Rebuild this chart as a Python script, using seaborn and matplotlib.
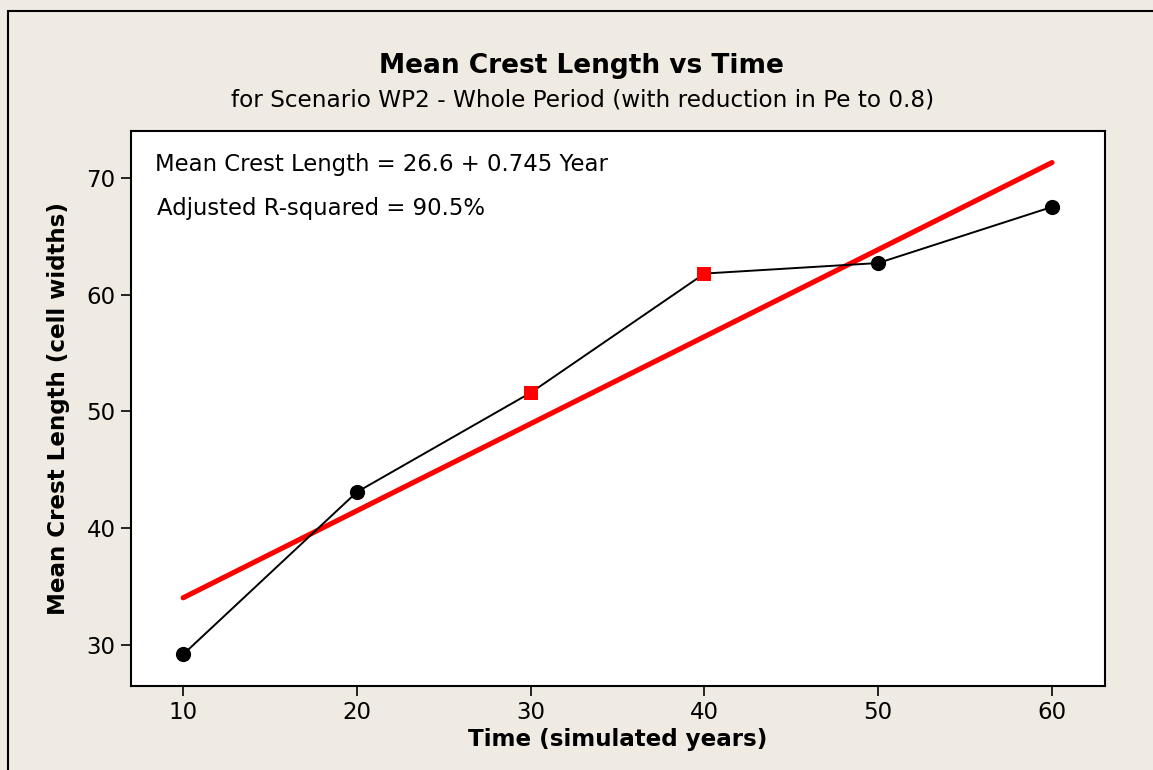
import matplotlib
matplotlib.use("Agg")
import matplotlib.pyplot as plt
import seaborn as sns
import pandas as pd
import numpy as np
from matplotlib.patches import Rectangle

# ---- data ----
years = [10, 20, 30, 40, 50, 60]
crest_length = [29.2, 43.1, 51.6, 61.8, 62.7, 67.5]
highlight = [False, False, True, True, False, False]
fit_intercept = 26.6
fit_slope = 0.745
eq_text = "Mean Crest Length = 26.6 + 0.745 Year"
r2_text = "Adjusted R-squared = 90.5%"
x_ticks = [10, 20, 30, 40, 50, 60]
y_ticks = [30, 40, 50, 60, 70]

df = pd.DataFrame({"Year": years, "Length": crest_length, "hl": highlight})
fit_df = pd.DataFrame({"Year": [years[0], years[-1]]})
fit_df["Fit"] = fit_intercept + fit_slope * fit_df["Year"]

sns.set_theme(style="white")
plt.rcParams['font.family'] = ['DejaVu Sans']
plt.rcParams['text.color'] = 'black'
plt.rcParams['axes.labelcolor'] = 'black'
bg = "#EFEBE2"

fig = plt.figure(figsize=(11.53, 7.70), dpi=100, facecolor=bg)
ax = fig.add_axes([131/1153, 1 - 686/770, (1105-131)/1153, (686-131)/770])
ax.set_facecolor("white")

# outer frame (left and top visible)
fig.patches.append(Rectangle((8/1153, -0.05), 1.2, 1 - 11/770 + 0.05,
                             transform=fig.transFigure, fill=False,
                             edgecolor="black", linewidth=1.5, zorder=0))

sns.lineplot(data=fit_df, x="Year", y="Fit", ax=ax, color="#FF0000",
             linewidth=3.7, zorder=2)
sns.lineplot(data=df, x="Year", y="Length", ax=ax, color="black",
             linewidth=1.4, zorder=3)
sns.scatterplot(data=df[~df.hl], x="Year", y="Length", ax=ax, color="black",
                marker="o", s=120, linewidth=0, zorder=4)
sns.scatterplot(data=df[df.hl], x="Year", y="Length", ax=ax, color="#FF0000",
                marker="s", s=110, linewidth=0, zorder=4)

ax.set_xlim(7.0, 63.05)
ax.set_ylim(26.5, 74.0)
ax.set_xticks(x_ticks)
ax.set_yticks(y_ticks)
ax.tick_params(axis="both", direction="out", length=7, width=1.2,
               colors="black", labelsize=16.5, bottom=True, left=True, pad=4)
for s in ax.spines.values():
    s.set_color("black")
    s.set_linewidth(1.5)

ax.set_xlabel("Time (simulated years)", fontsize=16.6, fontweight="bold", labelpad=3)
ax.set_ylabel("Mean Crest Length (cell widths)", fontsize=16.6, fontweight="bold", labelpad=12)

ax.text(0.025, 0.9396, eq_text, transform=ax.transAxes, fontsize=16.4, va="center", ha="left")
ax.text(0.027, 0.8596, r2_text, transform=ax.transAxes, fontsize=16.4, va="center", ha="left")

fig.text(581/1153, 1 - 66/770, "Mean Crest Length vs Time", fontsize=19,
         fontweight="bold", ha="center", va="center")
fig.text(583/1153, 1 - 100/770, "for Scenario WP2 - Whole Period (with reduction in Pe to 0.8)",
         fontsize=16.7, ha="center", va="center")

fig.savefig("out.png", dpi=100, facecolor=bg)
